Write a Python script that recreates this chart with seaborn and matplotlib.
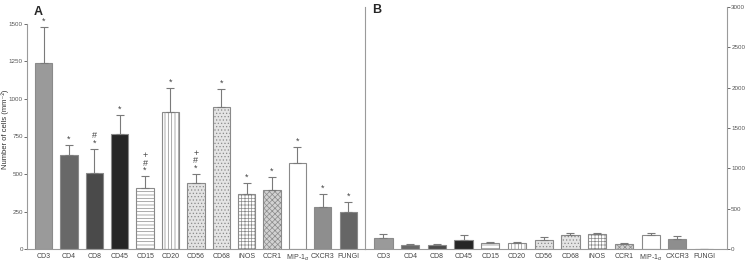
import numpy as np
import pandas as pd
import matplotlib.pyplot as plt
import seaborn as sns

sns.set_style("ticks")
plt.rcParams['font.family'] = ['Liberation Sans', 'DejaVu Sans']
plt.rcParams['hatch.linewidth'] = 0.5

# Données
markers = ['CD3', 'CD4', 'CD8', 'CD45', 'CD15', 'CD20', 'CD56', 'CD68',
           'iNOS', 'CCR1', 'MIP-1$_\\alpha$', 'CXCR3', 'FUNGI']
a_mean = [1240, 627, 509, 764, 410, 915, 442, 945, 369, 393, 573, 282, 244]
a_sem = [238, 66, 158, 127, 77, 158, 60, 124, 73, 87, 109, 82, 71]
a_marks = ['*', '*', '#\n*', '*', '+\n#\n*', '*', '+\n#\n*', '*', '*', '*', '*', '*', '*']
b_mean = [137, 53, 53, 116, 75, 75, 116, 170, 190, 58, 170, 128, 0]
b_sem = [53, 9, 9, 54, 12, 8, 33, 29, 5, 13, 29, 30, 0]

# Style des barres
colors = ['#9a9a9a', '#686868', '#4a4a4a', '#262626', '#ffffff', '#ffffff', '#e2e2e2',
          '#e4e4e4', '#ffffff', '#d2d2d2', '#ffffff', '#8e8e8e', '#666666']
hatches = [None, None, None, None, '-----', '|||||', '.....', '.....', '+++++', 'xxxxxx',
           None, None, None]
edge = '#8a8a8a'

df_a = pd.DataFrame({'Marker': markers, 'Value': a_mean})
df_b = pd.DataFrame({'Marker': markers, 'Value': b_mean})

fig = plt.figure(figsize=(7.47, 2.62), dpi=100)
ax_a = fig.add_axes([27 / 747, 13 / 262, 338 / 747, 225 / 262])
ax_b = fig.add_axes([365 / 747, 13 / 262, 362 / 747, 242 / 262])


def draw_panel(ax, df, sem):
    sns.barplot(data=df, x='Marker', y='Value', hue='Marker', palette=colors,
                legend=False, width=0.68, ax=ax, linewidth=0.8, edgecolor=edge)
    for patch, h in zip(ax.patches, hatches):
        if h:
            patch.set_hatch(h)
    x = np.arange(len(df))
    ax.errorbar(x, df['Value'], yerr=[np.zeros(len(df)), sem], fmt='none',
                ecolor='#7a7a7a', elinewidth=0.8, capsize=3, capthick=0.8)
    ax.set_xlabel('')
    ax.set_ylabel('')
    ax.tick_params(axis='x', length=0, labelsize=5, colors='#444444', pad=3)
    ax.tick_params(axis='y', length=2, width=0.6, labelsize=4.5, colors='#555555', pad=1)
    for s in ax.spines.values():
        s.set_color('#9a9a9a')
        s.set_linewidth(0.8)


# Panneau A
draw_panel(ax_a, df_a, a_sem)
ax_a.set_xlim(-0.65, 12.66)
ax_a.set_ylim(0, 1500)
ax_a.set_yticks(range(0, 1501, 250))
ax_a.spines['top'].set_visible(False)
ax_a.spines['right'].set_visible(False)
for i, (m, s, t) in enumerate(zip(a_mean, a_sem, a_marks)):
    ax_a.text(i, m + s + 8, t, ha='center', va='bottom', fontsize=6.5,
              color='#444444', linespacing=0.75)

# Panneau B
draw_panel(ax_b, df_b, b_sem)
ax_b.set_xlim(-0.69, 12.86)
ax_b.set_ylim(0, 3000)
ax_b.set_yticks(range(0, 3001, 500))
ax_b.yaxis.tick_right()
ax_b.spines['top'].set_visible(False)

fig.text(38 / 747, 1 - 12 / 262, 'A', fontsize=9, fontweight='bold', va='center', ha='center')
fig.text(377 / 747, 1 - 10 / 262, 'B', fontsize=9, fontweight='bold', va='center', ha='center')
fig.text(1 / 747, 133 / 262, 'Number of cells (mm⁻²)', rotation=90, fontsize=5.5,
         va='center', ha='left', color='#333333')

plt.savefig('out.png', dpi=100)
